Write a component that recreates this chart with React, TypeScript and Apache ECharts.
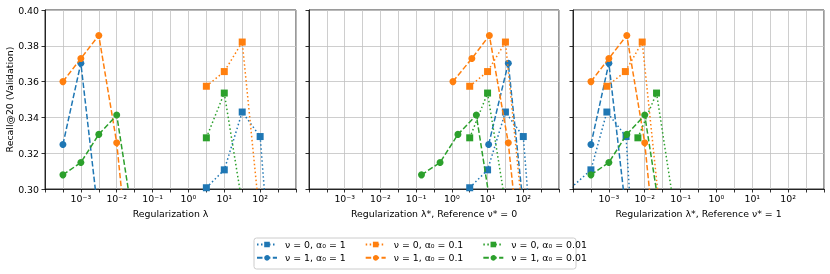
import React, { useEffect, useRef } from "react";
import * as echarts from "echarts";

// Legend / series names (plot order)
const SERIES_NAMES = [
  "ν = 0, α₀ = 1",
  "ν = 1, α₀ = 1",
  "ν = 0, α₀ = 0.1",
  "ν = 1, α₀ = 0.1",
  "ν = 0, α₀ = 0.01",
  "ν = 1, α₀ = 0.01",
];
const SERIES_COLORS = ["#1f77b4", "#1f77b4", "#ff7f0e", "#ff7f0e", "#2ca02c", "#2ca02c"];

// Recall@20 (validation) values (last values are below the axis)
const recallNu0A1 = [0.3007, 0.3107, 0.343, 0.3293, 0.202];
const recallNu1A1 = [0.3249, 0.3703, 0.283];
const recallNu0A01 = [0.3574, 0.3656, 0.3821, 0.282];
const recallNu1A01 = [0.36, 0.3729, 0.3858, 0.3258, 0.226];
const recallNu0A001 = [0.3286, 0.3536, 0.2916];
const recallNu1A001 = [0.3079, 0.3148, 0.3305, 0.3413, 0.277];

// log10 of the regularization λ (panel 1, original)
const logLamNu0A1 = [0.5, 1.0, 1.5, 2.0, 2.5];
const logLamNu1A1 = [-3.5, -3.0, -2.5];
const logLamNu0A01 = [0.5, 1.0, 1.5, 2.0];
const logLamNu1A01 = [-3.5, -3.0, -2.5, -2.0, -1.5];
const logLamNu0A001 = [0.5, 1.0, 1.5];
const logLamNu1A001 = [-3.5, -3.0, -2.5, -2.0, -1.5];

// log10 λ* with reference ν* = 0 (ν = 1 runs are re-mapped)
const logLamStarRef0Nu1A1 = [1.03, 1.58, 2.04];
const logLamStarRef0Nu1A01 = [0.03, 0.56, 1.05, 1.58, 2.1];
const logLamStarRef0Nu1A001 = [-0.85, -0.33, 0.17, 0.685, 1.19];

// log10 λ* with reference ν* = 1 (ν = 0 runs are re-mapped)
const logLamStarRef1Nu0A1 = [-4.05, -3.5, -3.055, -2.52, -2.13];
const logLamStarRef1Nu0A01 = [-3.055, -2.54, -2.07, -1.55];
const logLamStarRef1Nu0A001 = [-2.19, -1.67, -1.196];

const X_LABEL_EXPONENTS = [-3, -2, -1, 0, 1, 2];
const Y_TICKS = [0.3, 0.32, 0.34, 0.36, 0.38, 0.4];

const X_TITLES = [
  "Regularization λ",
  "Regularization λ*, Reference ν* = 0",
  "Regularization λ*, Reference ν* = 1",
];
const Y_TITLE = "Recall@20 (Validation)";

const PANEL_X = [
  [logLamNu0A1, logLamNu1A1, logLamNu0A01, logLamNu1A01, logLamNu0A001, logLamNu1A001],
  [logLamNu0A1, logLamStarRef0Nu1A1, logLamNu0A01, logLamStarRef0Nu1A01, logLamNu0A001, logLamStarRef0Nu1A001],
  [logLamStarRef1Nu0A1, logLamNu1A1, logLamStarRef1Nu0A01, logLamNu1A01, logLamStarRef1Nu0A001, logLamNu1A001],
];
const SERIES_Y = [recallNu0A1, recallNu1A1, recallNu0A01, recallNu1A01, recallNu0A001, recallNu1A001];

const SUP: Record<string, string> = {
  "-": "⁻", "0": "⁰", "1": "¹", "2": "²", "3": "³", "4": "⁴", "5": "⁵", "6": "⁶", "7": "⁷", "8": "⁸", "9": "⁹",
};
const supStr = (n: number) => String(n).split("").map((c) => SUP[c] || c).join("");

const FONT = "DejaVu Sans";
const FS = 9.4;
const GRID_COLOR = "#c2c2c2";

const GRIDS = [
  { left: 45, width: 251 },
  { left: 309, width: 250 },
  { left: 573, width: 251 },
];

export default function App() {
  const ref = useRef<HTMLDivElement>(null);
  useEffect(() => {
    if (!ref.current) return;
    const chart = echarts.init(ref.current, undefined, { renderer: "svg" });

    const xFormatter = (v: number) => {
      const r = Math.round(v * 2) / 2;
      if (Number.isInteger(r) && X_LABEL_EXPONENTS.includes(r)) return "10" + supStr(r);
      return "";
    };

    const series: any[] = [];
    PANEL_X.forEach((panel, p) => {
      panel.forEach((xs, s) => {
        const isSquare = s % 2 === 0;
        series.push({
          type: "line",
          name: SERIES_NAMES[s],
          xAxisIndex: p,
          yAxisIndex: p,
          data: xs.map((x, i) => [x, SERIES_Y[s][i]]),
          symbol: isSquare ? "rect" : "circle",
          symbolSize: 7,
          showSymbol: true,
          clip: true,
          color: SERIES_COLORS[s],
          itemStyle: { color: SERIES_COLORS[s] },
          lineStyle: {
            color: SERIES_COLORS[s],
            width: 1.5,
            type: isSquare ? [1.5, 2.5] : [5.5, 2.4],
          },
          z: 2 + s,
        });
      });
    });

    const option: any = {
      animation: false,
      textStyle: { fontFamily: FONT },
      grid: GRIDS.map((g) => ({
        left: g.left,
        width: g.width,
        top: 10,
        height: 179,
        show: true,
        borderColor: "#000",
        borderWidth: 0.8,
        backgroundColor: "transparent",
        containLabel: false,
      })),
      xAxis: GRIDS.map((g, i) => ({
        type: "value",
        gridIndex: i,
        min: -4,
        max: 3,
        interval: 0.5,
        axisLine: { show: true, onZero: false, lineStyle: { color: "#000", width: 0.8 } },
        axisTick: { show: true, length: 3.5, lineStyle: { color: "#000", width: 0.8 } },
        axisLabel: { formatter: xFormatter, fontSize: FS, color: "#000", margin: 5, fontFamily: FONT },
        splitLine: { show: true, lineStyle: { color: GRID_COLOR, width: 0.8 } },
        name: X_TITLES[i],
        nameLocation: "middle",
        nameGap: 20,
        nameTextStyle: { fontSize: FS, color: "#000", fontFamily: FONT },
      })),
      yAxis: GRIDS.map((g, i) => ({
        type: "value",
        gridIndex: i,
        min: Y_TICKS[0],
        max: Y_TICKS[Y_TICKS.length - 1],
        interval: 0.02,
        axisLine: { show: true, onZero: false, lineStyle: { color: "#000", width: 0.8 } },
        axisTick: { show: true, length: 3.5, lineStyle: { color: "#000", width: 0.8 } },
        axisLabel: {
          show: i === 0,
          formatter: (v: number) => v.toFixed(2),
          fontSize: FS,
          color: "#000",
          margin: 6,
          fontFamily: FONT,
        },
        splitLine: { show: true, lineStyle: { color: GRID_COLOR, width: 0.8 } },
        name: i === 0 ? Y_TITLE : "",
        nameLocation: "middle",
        nameGap: 26,
        nameTextStyle: { fontSize: FS, color: "#000", fontFamily: FONT },
      })),
      legend: [0, 1].map((row) => ({
        orient: "horizontal",
        left: 256,
        top: 240 + row * 13.3,
        padding: 0,
        itemGap: 19,
        itemWidth: 20,
        itemHeight: 7,
        data: SERIES_NAMES.filter((_, k) => k % 2 === row),
        textStyle: { fontSize: FS, color: "#000", fontFamily: FONT, padding: [0, 0, 0, 3] },
        selectedMode: false,
      })),
      graphic: [
        {
          type: "rect",
          left: 253.5,
          top: 237.5,
          shape: { width: 322, height: 31, r: 2.5 },
          style: { fill: "rgba(255,255,255,0.8)", stroke: "#cccccc", lineWidth: 1 },
          z: -10,
        },
      ],
      series,
    };
    chart.setOption(option);
    return () => chart.dispose();
  }, []);
  return <div ref={ref} style={{ position: "fixed", left: 0, top: 0, width: 830, height: 274 }} />;
}
